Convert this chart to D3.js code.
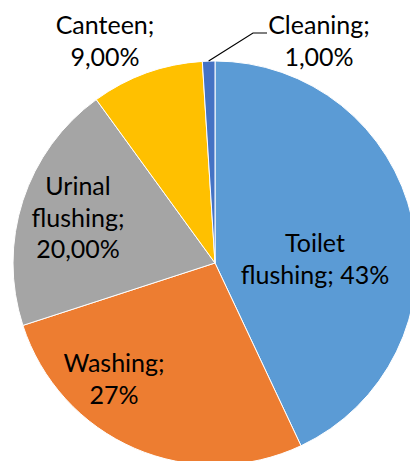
<!DOCTYPE html>
<html><head><meta charset="utf-8">
<script src="https://cdn.jsdelivr.net/npm/d3@7"></script>
<style>html,body{margin:0;padding:0;background:#fff;overflow:hidden}</style>
</head><body>
<svg id="c" width="410" height="461"></svg>
<script>
const categories = ["Toilet flushing", "Washing", "Urinal flushing", "Canteen", "Cleaning"];
const values = [43, 27, 20, 9, 1];
const labelLines = [["Toilet", "flushing; 43%"], ["Washing;", "27%"], ["Urinal", "flushing;", "20,00%"], ["Canteen;", "9,00%"], ["Cleaning;", "1,00%"]];
const colors = ["#5B9BD5", "#ED7D31", "#A5A5A5", "#FFC000", "#4472C4"];
// label anchor positions (layout)
const labelPos = [[315, 252], [114, 372], [78, 195], [105, 34], [319, 34]];

const svg = d3.select("#c");
const cx = 215, cy = 263, R = 202;
const g = svg.append("g").attr("transform", `translate(${cx},${cy})`);
const pie = d3.pie().sort(null).value(d => d)(values);
const arc = d3.arc().innerRadius(0).outerRadius(R);
g.selectAll("path").data(pie).join("path")
  .attr("d", arc).attr("fill", (d, i) => colors[i])
  .attr("stroke", "#fff").attr("stroke-width", 1);

// leader line for Cleaning
const cl = pie[4];
const mid = (cl.startAngle + cl.endAngle) / 2;
const p0 = [cx + R * Math.sin(mid), cy - R * Math.cos(mid)];
svg.append("polyline")
  .attr("points", `${p0[0]},${p0[1]} 253,33 267,33`)
  .attr("fill", "none").attr("stroke", "#000").attr("stroke-width", 1.2);

labelLines.forEach((lines, i) => {
  const t = svg.append("text").attr("text-anchor", "middle")
    .attr("font-family", "Lato, 'Open Sans', sans-serif").attr("font-size", 25).attr("fill", "#000");
  lines.forEach((l, j) => {
    t.append("tspan").attr("x", labelPos[i][0]).attr("y", labelPos[i][1] + j * 31.5).text(l);
  });
});
</script>
</body></html>
